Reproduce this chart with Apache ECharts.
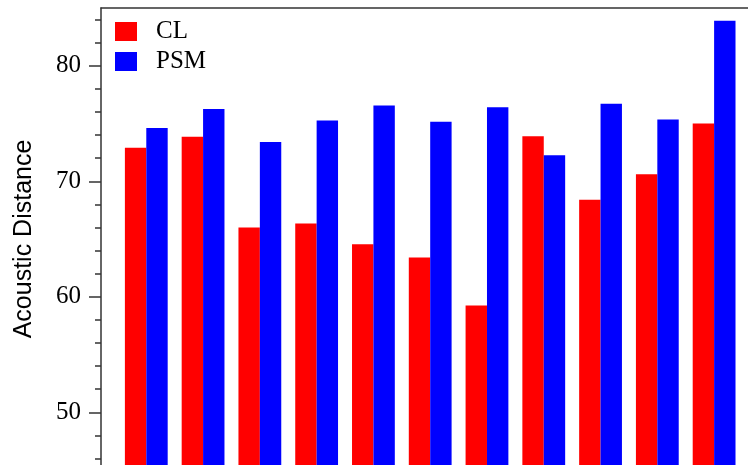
<!DOCTYPE html>
<html>
<head>
<meta charset="utf-8">
<script src="https://cdn.jsdelivr.net/npm/echarts@6/dist/echarts.min.js"></script>
<style>
    html, body { margin: 0; padding: 0; background: #fff; }
    #chart { width: 748px; height: 465px; }
</style>
</head>
<body>
<div id="chart"></div>
<script>
    // groups (no labels shown on the x axis)
    const groups = ['1', '2', '3', '4', '5', '6', '7', '8', '9', '10', '11']
    const clValues = [72.9, 73.85, 66.0, 66.35, 64.55, 63.4, 59.25, 73.9, 68.4, 70.6, 75.0]
    const psmValues = [74.6, 76.25, 73.4, 75.25, 76.55, 75.15, 76.4, 72.25, 76.7, 75.35, 83.9]
    const yMin = 45
    const yMax = 85
    // tick axis range (min must be a multiple of the interval)
    const tickMin = 40
    const tickMax = 86

    const serif = 'Liberation Serif'
    const axisColor = '#333'
    const pxPerUnit = 11.55
    const plotTop = 8

    const chart = echarts.init(document.getElementById('chart'))
    chart.setOption({
        animation: false,
        legend: {
            orient: 'vertical',
            left: 115,
            top: 19,
            padding: 0,
            itemWidth: 22,
            itemHeight: 19,
            itemGap: 5,
            icon: 'rect',
            data: ['CL', 'PSM'],
            textStyle: {
                fontFamily: serif,
                fontSize: 25,
                color: '#000',
                padding: [0, 0, 0, 14]
            }
        },
        grid: [
            // bars
            { left: 117.9, width: 624.6, top: plotTop, height: (yMax - yMin) * pxPerUnit, outerBoundsMode: 'none' },
            // frame
            { left: 101, right: 0, top: plotTop, height: (yMax - yMin) * pxPerUnit, outerBoundsMode: 'none' },
            // ticks + labels
            { left: 101, right: 0, top: plotTop - (tickMax - yMax) * pxPerUnit, height: (tickMax - tickMin) * pxPerUnit, outerBoundsMode: 'none' }
        ],
        xAxis: [
            { type: 'category', gridIndex: 0, data: groups, show: false },
            {
                type: 'value',
                gridIndex: 1,
                position: 'top',
                axisLine: { show: true, lineStyle: { color: axisColor, width: 1.5 } },
                axisTick: { show: false },
                axisLabel: { show: false },
                splitLine: { show: false }
            },
            { type: 'value', gridIndex: 2, show: false }
        ],
        yAxis: [
            { type: 'value', gridIndex: 0, min: yMin, max: yMax, show: false },
            {
                type: 'value',
                gridIndex: 1,
                min: yMin,
                max: yMax,
                name: 'Acoustic Distance',
                nameLocation: 'middle',
                nameGap: 64,
                nameTextStyle: {
                    fontFamily: 'Liberation Sans',
                    fontSize: 25,
                    color: '#000'
                },
                axisLine: { show: true, lineStyle: { color: axisColor, width: 1.5 } },
                axisTick: { show: false },
                axisLabel: { show: false },
                splitLine: { show: false }
            },
            {
                type: 'value',
                gridIndex: 2,
                position: 'left',
                min: tickMin,
                max: tickMax,
                interval: 10,
                axisLine: { show: false },
                axisTick: { show: true, length: 12, lineStyle: { color: axisColor, width: 1.5 } },
                axisLabel: {
                    fontFamily: serif,
                    fontSize: 25,
                    color: '#000',
                    margin: 20,
                    formatter: v => (v % 10 === 0 && v > yMin && v < yMax) ? String(v) : ''
                },
                splitLine: { show: false }
            },
            {
                type: 'value',
                gridIndex: 2,
                position: 'left',
                offset: 0,
                min: tickMin,
                max: tickMax,
                interval: 2,
                axisLine: { show: false },
                axisTick: { show: true, length: 6, lineStyle: { color: axisColor, width: 1.5 } },
                axisLabel: { show: false },
                splitLine: { show: false }
            }
        ],
        series: [
            {
                name: 'CL',
                type: 'bar',
                xAxisIndex: 0,
                yAxisIndex: 0,
                barWidth: 21.4,
                barGap: '0%',
                itemStyle: { color: '#ff0000' },
                data: clValues
            },
            {
                name: 'PSM',
                type: 'bar',
                xAxisIndex: 0,
                yAxisIndex: 0,
                barWidth: 21.4,
                barGap: '0%',
                itemStyle: { color: '#0000ff' },
                data: psmValues
            }
        ]
    })
</script>
</body>
</html>
